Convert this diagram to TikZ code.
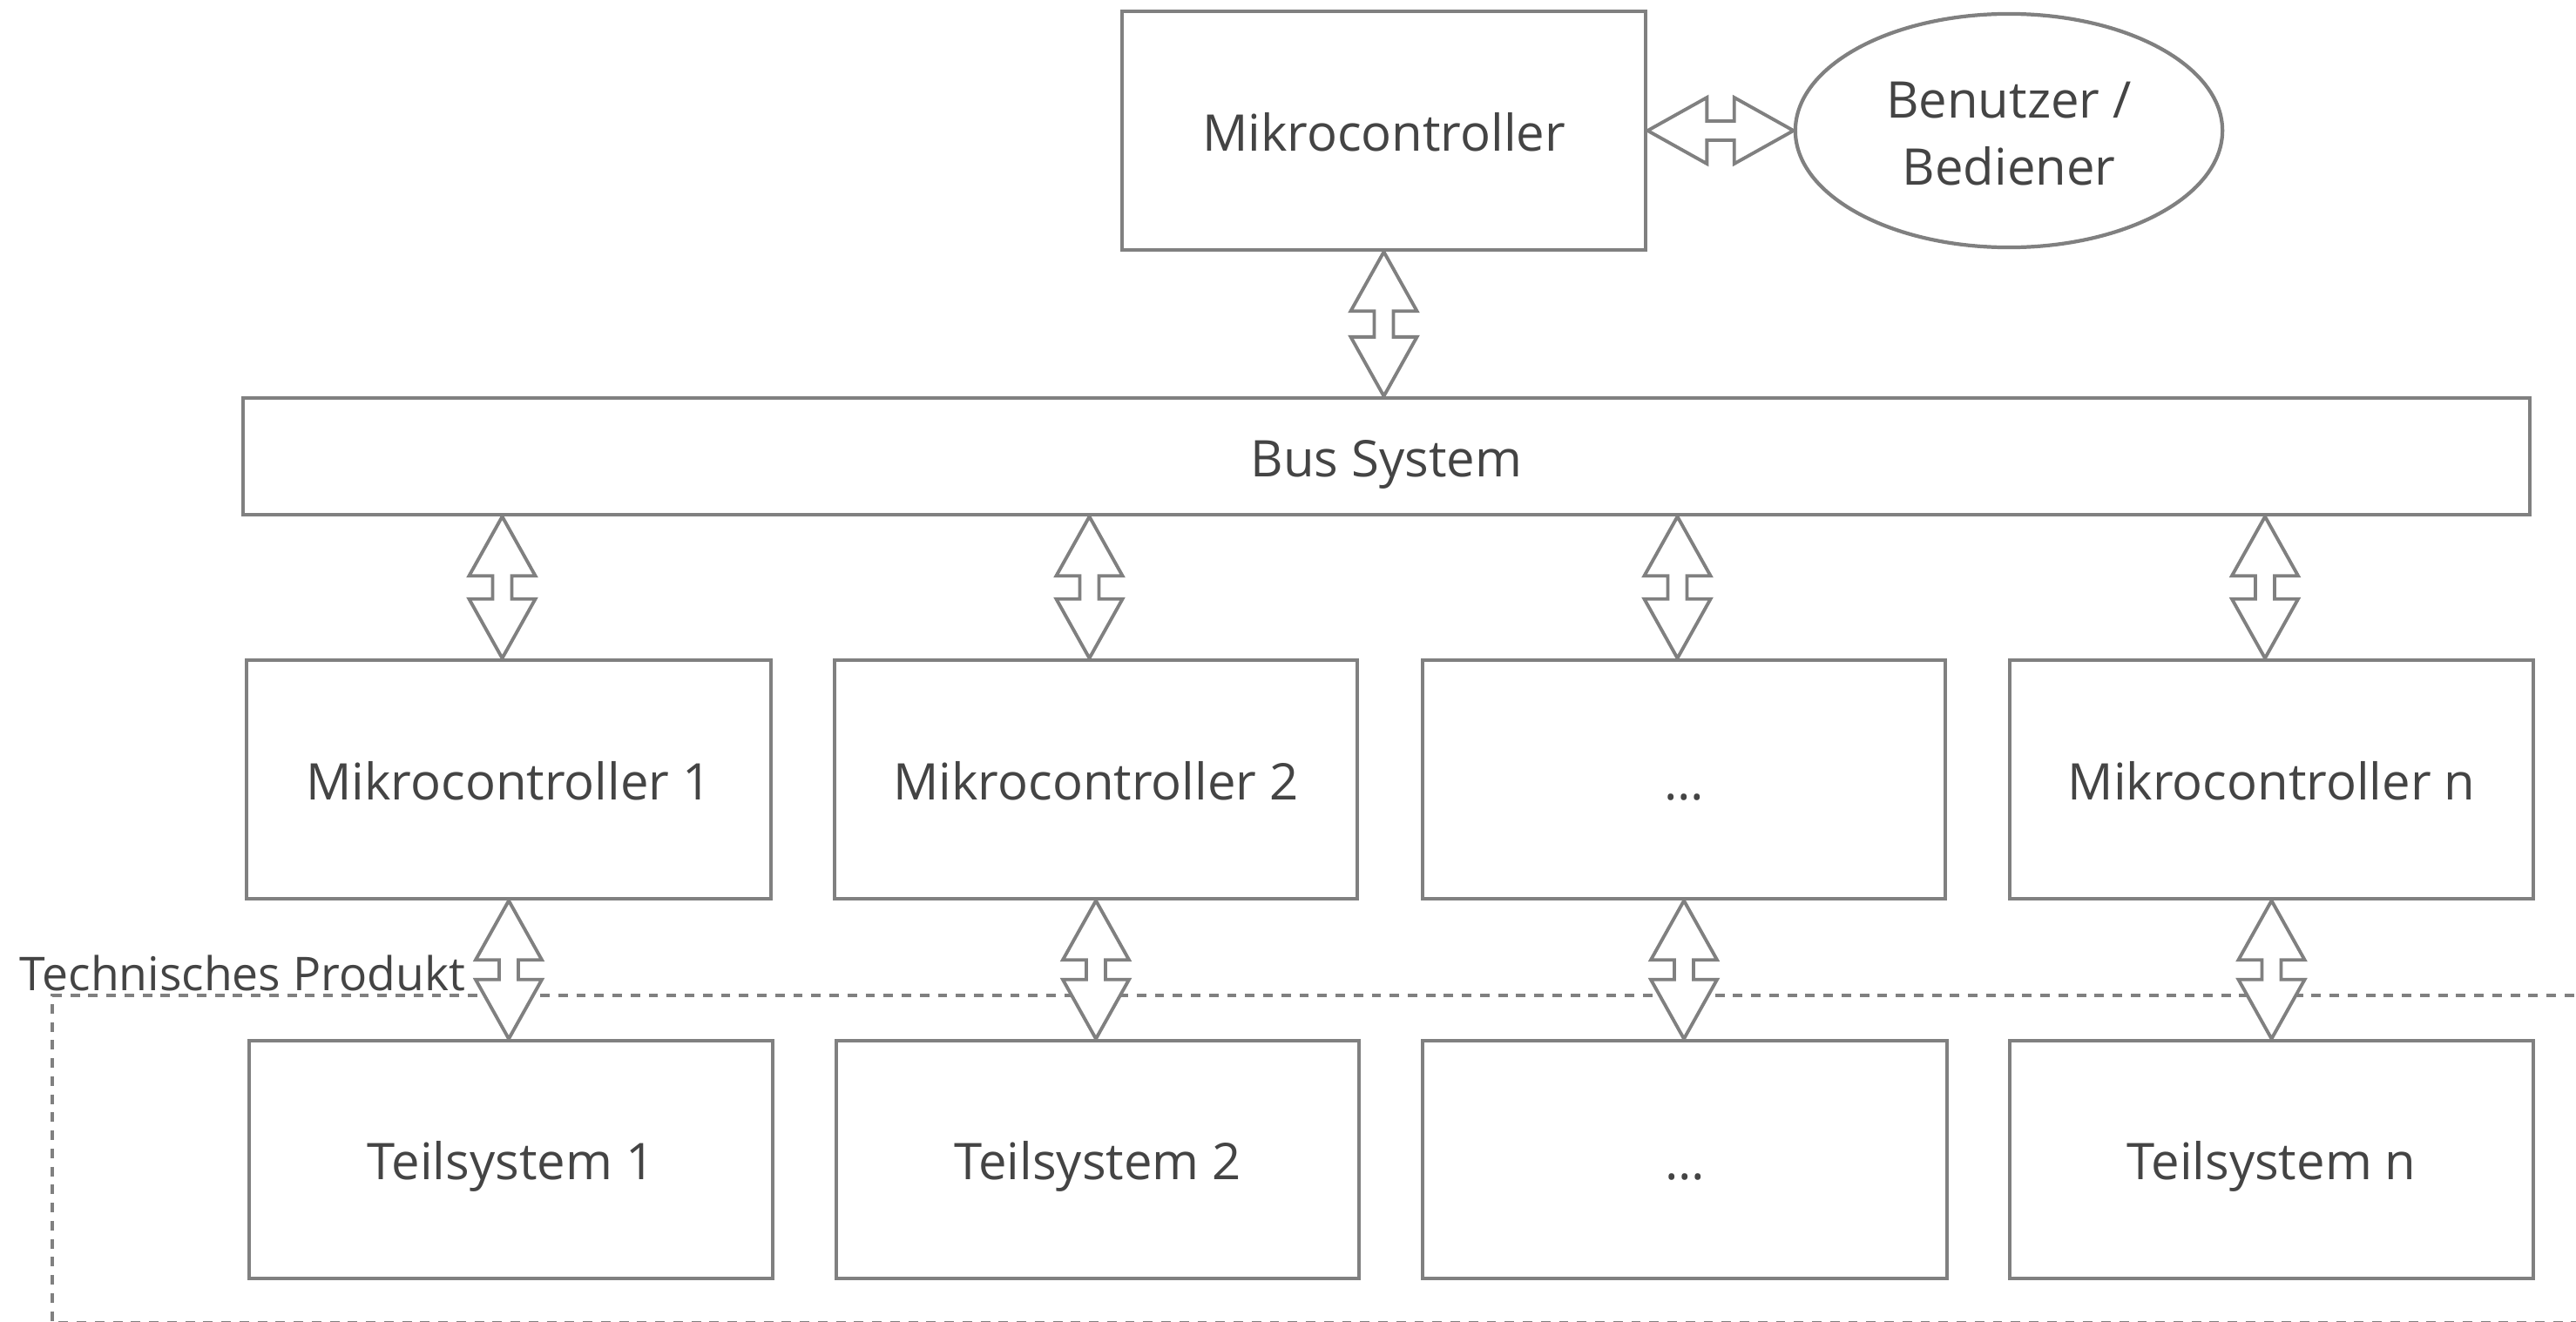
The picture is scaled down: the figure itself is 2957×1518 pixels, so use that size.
\documentclass[tikz,border=0pt]{standalone}
\usepackage{fontspec}
\setmainfont{Open Sans}
\usetikzlibrary{calc,shapes.geometric}
\definecolor{linegray}{HTML}{808080}
\definecolor{textgray}{HTML}{444444}
\tikzset{
  box/.style={draw=linegray, line width=1.2pt, text=textgray, fill=white,
    font=\fontsize{16.5}{21.8}\selectfont, inner sep=0pt, align=center,
    text height=13.6pt, text depth=0.3pt},
  ubox/.style={draw=linegray, line width=1.2pt, text=textgray, fill=white,
    font=\fontsize{16.5}{21.8}\selectfont, inner sep=0pt, align=center,
    text height=35.6pt, text depth=0pt},
  dblarr/.style={draw=linegray, line width=1.1pt, fill=white, line join=miter},
  prodline/.style={draw=linegray, line width=1.15pt, dash pattern=on 3.1pt off 2.8pt},
  prodlabel/.style={text=textgray, font=\fontsize{15.2}{18}\selectfont, inner sep=0pt, anchor=base west}
}
\newcommand{\dbl}[2]{%
  \draw[dblarr] (#1)
    -- ($(#1)!0.68cm!(#2)!0.38cm!90:(#2)$)
    -- ($(#1)!0.68cm!(#2)!0.11cm!90:(#2)$)
    -- ($(#2)!0.68cm!(#1)!0.11cm!-90:(#1)$)
    -- ($(#2)!0.68cm!(#1)!0.38cm!-90:(#1)$)
    -- (#2)
    -- ($(#2)!0.68cm!(#1)!0.38cm!90:(#1)$)
    -- ($(#2)!0.68cm!(#1)!0.11cm!90:(#1)$)
    -- ($(#1)!0.68cm!(#2)!0.11cm!-90:(#2)$)
    -- ($(#1)!0.68cm!(#2)!0.38cm!-90:(#2)$)
    -- cycle;}
\begin{document}
\begin{tikzpicture}[x=0.01cm, y=-0.01cm]
\useasboundingbox (0,0) rectangle (2957,1518);
\clip (0,0) rectangle (2957,1518);

% Technisches Produkt frame
\draw[prodline] (3100,1143) -- (60,1143) -- (60,1519) -- (3100,1519);
\node[prodlabel] (prod) at (22,1137) {Technisches Produkt};

% top
\node[box, minimum width=6.01cm, minimum height=2.74cm] (mc) at (1588.5,150) {Mikrocontroller};
\node[ubox, ellipse, minimum width=4.9cm, minimum height=2.68cm] (user) at (2306,150) {Benutzer /\\Bediener};
\node[box, minimum width=26.23cm, minimum height=1.34cm] (bus) at (1591.5,524) {Bus System};

% row 1
\node[box, minimum width=6.02cm, minimum height=2.74cm] (m1) at (584,895) {Mikrocontroller 1};
\node[box, minimum width=6.0cm, minimum height=2.74cm] (m2) at (1258,895) {Mikrocontroller 2};
\node[box, minimum width=6.0cm, minimum height=2.74cm] (m3) at (1933,895) {…};
\node[box, minimum width=6.01cm, minimum height=2.74cm] (m4) at (2607.5,895) {Mikrocontroller n};

% row 2
\node[box, minimum width=6.01cm, minimum height=2.73cm] (t1) at (586.5,1331.5) {Teilsystem 1};
\node[box, minimum width=6.0cm, minimum height=2.73cm] (t2) at (1260,1331.5) {Teilsystem 2};
\node[box, minimum width=6.02cm, minimum height=2.73cm] (t3) at (1934,1331.5) {…};
\node[box, minimum width=6.01cm, minimum height=2.73cm] (t4) at (2607.5,1331.5) {Teilsystem n};

% arrow end points
\coordinate (a0) at (mc.south |- bus.north);
\foreach \i in {1,2,3,4}{
  \coordinate (b\i) at ($(m\i.north)+(-7.5,0)$);
  \coordinate (s\i) at (bus.south -| b\i);
  \coordinate (c\i) at (m\i.south);
  \coordinate (d\i) at (t\i.north -| c\i);
}

% arrows
\dbl{mc.east}{user.west}
\dbl{mc.south}{a0}
\foreach \i in {1,2,3,4}{
  \dbl{s\i}{b\i}
  \dbl{c\i}{d\i}
}
\end{tikzpicture}
\end{document}
